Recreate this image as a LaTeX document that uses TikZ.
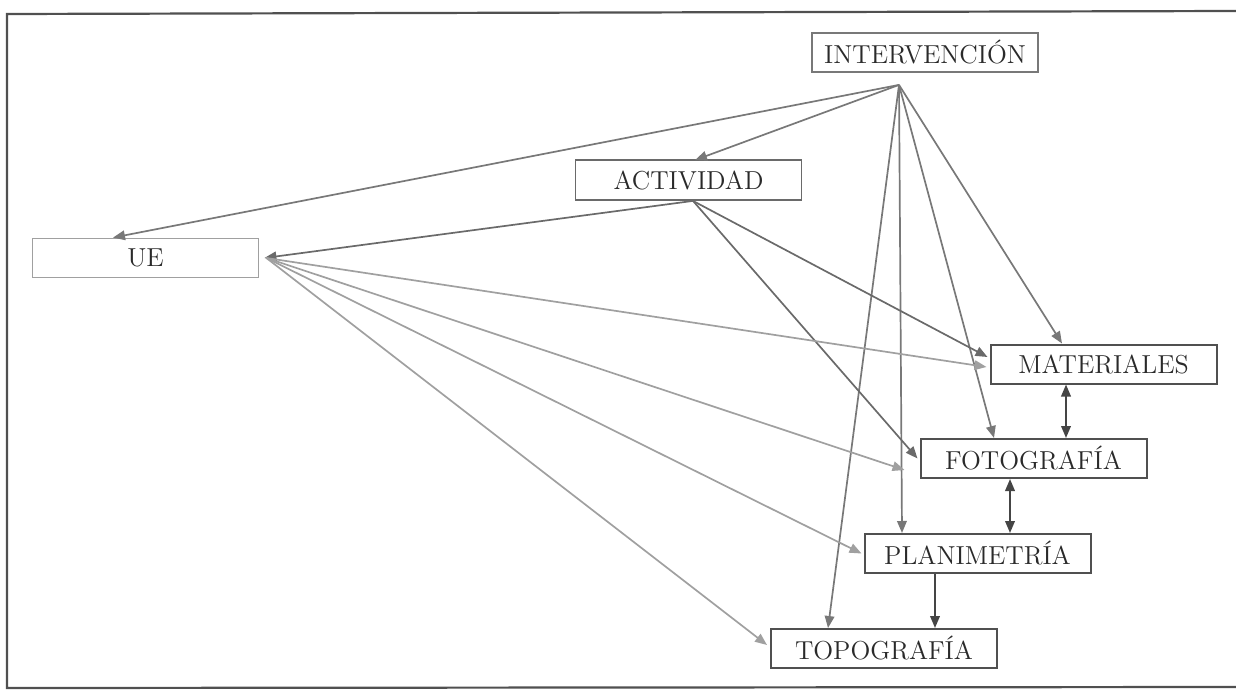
\documentclass[tikz,border=0pt]{standalone}
\usetikzlibrary{arrows.meta}
\definecolor{frameC}{HTML}{505050}
\definecolor{intC}{HTML}{787878}
\definecolor{actC}{HTML}{6A6A6A}
\definecolor{ueC}{HTML}{A0A0A0}
\definecolor{dblC}{HTML}{454545}
\definecolor{txtC}{HTML}{2A2A2A}
\begin{document}
\begin{tikzpicture}[x=0.5pt,y=-0.5pt,
  box/.style={draw=#1, line width=0.9pt, rectangle, minimum width=113pt, minimum height=19.5pt,
    inner sep=0pt, text=txtC, font=\fontsize{13}{15}\selectfont},
  tip/.style={-{Triangle[length=6pt,width=4.8pt]}},
  intarrow/.style={tip, draw=intC, fill=intC, line width=0.85pt},
  actarrow/.style={tip, draw=actC, fill=actC, line width=0.85pt},
  uearrow/.style={tip, draw=ueC, fill=ueC, line width=0.85pt},
  dblarrow/.style={{Triangle[length=6pt,width=4.8pt]}-{Triangle[length=6pt,width=4.8pt]}, draw=dblC, fill=dblC, line width=0.9pt},
  downarrow/.style={tip, draw=dblC, fill=dblC, line width=0.9pt}]
\useasboundingbox (0,0) rectangle (1236,690);
% frame
\draw[frameC, line width=1.1pt] (1236,11) -- (7,14) -- (7,688) -- (1236,687);
% boxes
\node[box=intC] (int) at (925,52.5) {INTERVENCIÓN};
\node[box=actC, minimum height=20pt] (act) at (688.5,180) {ACTIVIDAD};
\node[box=ueC] (ue) at (145.5,258) {UE};
\node[box=frameC, line width=1pt] (mat) at (1103.5,364) {MATERIALES};
\node[box=frameC, line width=1pt] (foto) at (1033.5,458.5) {FOTOGRAFÍA};
\node[box=frameC, line width=1pt] (plan) at (977.5,553.5) {PLANIMETRÍA};
\node[box=frameC, line width=1pt] (topo) at (884,648.5) {TOPOGRAFÍA};
% ports
\coordinate (iS) at ([xshift=-13pt,yshift=-6pt]int.south);
\coordinate (aS) at ([xshift=2.25pt]act.south);
\coordinate (uS) at ([xshift=3.5pt]ue.east);
% from INTERVENCION
\draw[intarrow] (iS) -- ([xshift=-16.25pt]ue.north);
\draw[intarrow] (iS) -- ([xshift=3.25pt,yshift=-0.5pt]act.north);
\draw[intarrow] (iS) -- ([xshift=-20.75pt]mat.north);
\draw[intarrow] (iS) -- ([xshift=-19.75pt]foto.north);
\draw[intarrow] (iS) -- ([xshift=-37.75pt]plan.north);
\draw[intarrow] (iS) -- ([xshift=-28pt]topo.north);
% from ACTIVIDAD
\draw[actarrow] (aS) -- ([xshift=2.5pt]ue.east);
\draw[actarrow] (aS) -- ([xshift=-1pt,yshift=3.5pt]mat.west);
\draw[actarrow] (aS) -- ([xshift=-1pt]foto.west);
% from UE
\draw[uearrow] (uS) -- ([xshift=-1.5pt,yshift=-1.5pt]mat.west);
\draw[uearrow] (uS) -- ([xshift=-7.5pt,yshift=-5.75pt]foto.west);
\draw[uearrow] (uS) -- ([xshift=-1pt]plan.west);
\draw[uearrow] (uS) -- ([xshift=-1.5pt,yshift=1.75pt]topo.west);
% vertical links
\draw[dblarrow] ([xshift=-18.75pt]mat.south) -- ([xshift=-18.75pt]mat.south |- foto.north);
\draw[dblarrow] ([xshift=-11.75pt]foto.south) -- ([xshift=-11.75pt]foto.south |- plan.north);
\draw[downarrow] ([xshift=-21.25pt]plan.south) -- ([xshift=-21.25pt]plan.south |- topo.north);
\end{tikzpicture}
\end{document}
